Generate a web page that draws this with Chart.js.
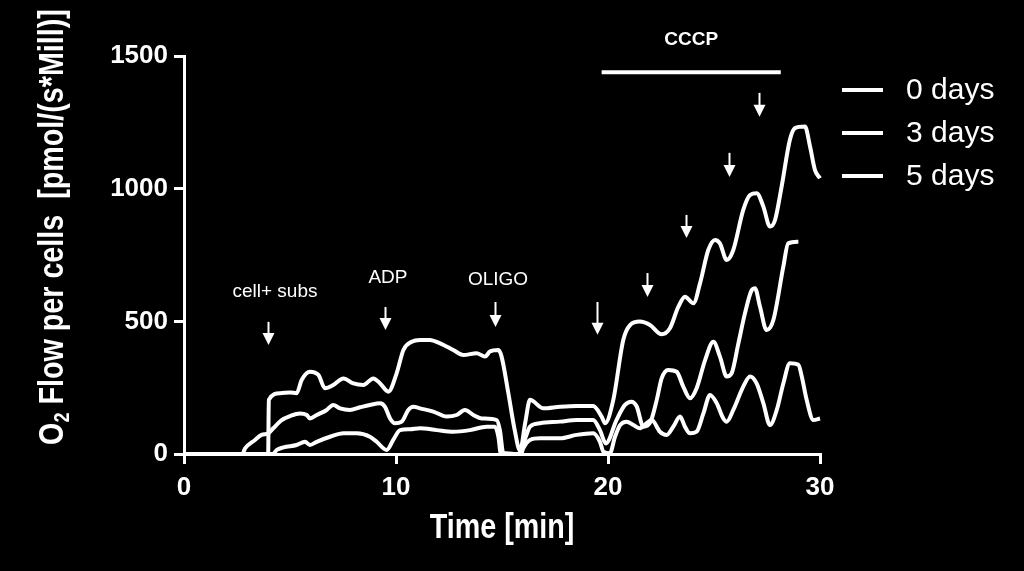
<!DOCTYPE html>
<html lang="en">
<head>
<meta charset="UTF-8">
<title>O2 Flow per cells</title>
<script src="https://cdn.jsdelivr.net/npm/chart.js"></script>
<style>
  html, body { margin: 0; padding: 0; background: #000; }
  canvas { display: block; }
</style>
</head>
<body>
<canvas id="flowChart" width="1024" height="571"></canvas>
<script>
// series: time [min] and O2 flow [pmol/(s*Mill)]
const seriesNames = ['0 days', '3 days', '5 days'];

const t0 = [0, 3.97, 4.0, 4.53, 5.0, 5.31, 5.55, 5.94, 6.34, 6.65, 7.04, 7.52, 7.99, 8.46, 8.93,
  9.25, 9.64, 10.03, 10.35, 10.74, 11.13, 11.6, 12.08, 12.7, 13.18, 13.8, 14.2, 14.43, 14.83, 14.98,
  15.3, 15.6, 15.85, 16.1, 16.32, 16.95, 17.74, 18.52, 19.3, 19.7, 19.86, 20.25, 20.72, 21.04, 21.5,
  21.98, 22.53, 22.92, 23.32, 23.63, 24.03, 24.34, 24.73, 25.05, 25.28, 25.6, 25.91, 26.38, 26.7, 27.01,
  27.33, 27.64, 27.88, 28.19, 28.58, 28.82, 29.29, 29.53, 29.76, 30.0];
const v0 = [0, 0, 204, 229, 232, 229, 279, 310, 298, 248, 260, 285, 266, 260, 285,
  266, 235, 304, 392, 423, 430, 430, 417, 392, 373, 380, 367, 386, 392, 367,
  229, 90, 12, 120, 204, 172, 178, 181, 181, 141, 116, 204, 430, 486, 499,
  486, 451, 474, 555, 593, 568, 643, 769, 807, 794, 731, 769, 920, 976, 983,
  932, 857, 882, 1008, 1184, 1228, 1234, 1159, 1071, 1039];

const t1 = [0, 2.75, 2.88, 3.35, 3.66, 3.98, 4.21, 4.61, 5.0, 5.47, 5.79, 5.94, 6.26, 6.73, 7.04,
  7.36, 7.83, 8.3, 8.77, 9.25, 9.48, 9.72, 9.95, 10.27, 10.58, 10.82, 11.13, 11.76, 12.39, 12.86,
  13.25, 13.65, 14.04, 14.75, 14.9, 15.06, 15.8, 16.1, 16.32, 16.79, 17.74, 18.52, 19.3, 19.62, 19.9,
  20.4, 20.8, 21.1, 21.35, 21.67, 22.0, 22.3, 22.53, 22.84, 23.24, 23.55, 23.87, 24.18, 24.58, 24.97,
  25.28, 25.6, 25.83, 26.15, 26.46, 26.78, 26.93, 27.17, 27.48, 27.8, 28.27, 28.5, 28.98];
const v1 = [0, 0, 21, 53, 72, 78, 97, 128, 143, 153, 147, 134, 147, 166, 185,
  172, 166, 176, 185, 191, 178, 134, 116, 122, 166, 178, 172, 160, 141, 147,
  166, 147, 134, 128, 90, 3, 0, 60, 103, 116, 122, 128, 128, 90, 40,
  128, 185, 197, 180, 103, 120, 204, 285, 317, 310, 254, 210, 248, 354, 423,
  367, 292, 304, 417, 530, 618, 625, 555, 467, 505, 706, 794, 800];

const t2 = [0, 4.2, 4.37, 4.69, 5.31, 5.71, 5.94, 6.26, 6.89, 7.52, 8.15, 8.77, 9.09, 9.56, 9.87,
  10.19, 10.66, 11.13, 11.92, 12.7, 13.49, 14.28, 14.67, 14.83, 14.94, 15.9, 16.0, 16.32, 16.79, 17.74,
  18.52, 19.3, 19.62, 19.78, 20.09, 20.33, 20.57, 20.88, 21.2, 21.51, 21.82, 22.06, 22.45, 22.77, 23.08,
  23.4, 23.63, 23.87, 24.18, 24.5, 24.81, 25.13, 25.44, 25.6, 25.91, 26.38, 26.7, 27.01, 27.33, 27.64,
  27.96, 28.27, 28.58, 28.98, 29.14, 29.37, 29.69, 30.0];
const v2 = [0, 0, 15, 25, 34, 46, 34, 46, 65, 78, 78, 65, 46, 15, 53,
  90, 93, 97, 90, 84, 90, 103, 103, 65, 3, 0, 21, 53, 59, 59,
  72, 78, 46, 9, 3, 65, 109, 122, 109, 97, 116, 128, 84, 72, 103,
  141, 103, 78, 84, 153, 222, 191, 134, 122, 166, 254, 292, 266, 191, 109,
  166, 266, 342, 336, 292, 204, 128, 134];

// additions (arrows) in data units: time, arrow top, arrow tip
const arrowT = [3.96, 9.48, 14.67, 19.48, 21.83, 23.68, 25.69, 27.12];
const arrowTop = [498, 554, 573, 573, 682, 901, 1135, 1361];
const arrowTip = [411, 467, 479, 449, 592, 814, 1044, 1271];
const noteText = ['cell+ subs', 'ADP', 'OLIGO'];
const noteT = [4.29, 9.62, 14.81];
const noteV = [611, 664, 656];
const cccpFrom = 19.7, cccpTo = 28.15, cccpLevel = 1439, cccpLabelV = 1561;

const SANS = "'Liberation Sans', Arial, sans-serif";

function toPoints(ts, vs) {
  return ts.map((t, i) => ({ x: t, y: vs[i] }));
}

// draws text parts [text, size, dy] condensed horizontally, centred on 0,0
function narrowText(ctx, parts) {
  const squeeze = 0.82;
  let total = 0;
  parts.forEach(p => {
    ctx.font = 'bold ' + p[1] + 'px ' + SANS;
    p.w = ctx.measureText(p[0]).width;
    total += p.w;
  });
  ctx.scale(squeeze, 1);
  let x = -total / 2;
  parts.forEach(p => {
    ctx.font = 'bold ' + p[1] + 'px ' + SANS;
    ctx.fillText(p[0], x, p[2]);
    x += p.w;
  });
}

const extras = {
  id: 'extras',
  afterDraw(chart) {
    const ctx = chart.ctx;
    const xs = chart.scales.x, ys = chart.scales.y;
    ctx.save();
    ctx.fillStyle = '#fff';
    ctx.strokeStyle = '#fff';

    // arrows
    arrowT.forEach((t, i) => {
      const px = Math.round(xs.getPixelForValue(t)) + 0.5;
      const top = ys.getPixelForValue(arrowTop[i]);
      const tip = ys.getPixelForValue(arrowTip[i]);
      const hw = 6, hh = 12;
      ctx.lineWidth = 2;
      ctx.beginPath();
      ctx.moveTo(px, top);
      ctx.lineTo(px, tip - hh + 2);
      ctx.stroke();
      ctx.beginPath();
      ctx.moveTo(px - hw, tip - hh);
      ctx.lineTo(px + hw, tip - hh);
      ctx.lineTo(px, tip);
      ctx.closePath();
      ctx.fill();
    });

    // labels over the arrows
    ctx.font = '19px ' + SANS;
    ctx.textAlign = 'center';
    ctx.textBaseline = 'middle';
    noteText.forEach((s, i) => {
      ctx.fillText(s, xs.getPixelForValue(noteT[i]), ys.getPixelForValue(noteV[i]));
    });

    // CCCP bar
    const cy = ys.getPixelForValue(cccpLevel);
    ctx.lineWidth = 4;
    ctx.beginPath();
    ctx.moveTo(xs.getPixelForValue(cccpFrom), cy);
    ctx.lineTo(xs.getPixelForValue(cccpTo), cy);
    ctx.stroke();
    ctx.font = 'bold 19px ' + SANS;
    ctx.fillText('CCCP', xs.getPixelForValue((cccpFrom + cccpTo) / 2), ys.getPixelForValue(cccpLabelV));

    // legend
    ctx.font = '30px ' + SANS;
    ctx.textAlign = 'left';
    chart.data.datasets.forEach((ds, i) => {
      const ly = 90 + i * 43;
      ctx.lineWidth = 4;
      ctx.beginPath();
      ctx.moveTo(842, ly);
      ctx.lineTo(883, ly);
      ctx.stroke();
      ctx.fillText(ds.label, 906, ly + 1);
    });

    // axis titles
    ctx.textAlign = 'left';
    ctx.textBaseline = 'alphabetic';
    ctx.save();
    ctx.translate((xs.left + xs.right) / 2, 538);
    narrowText(ctx, [['Time [min]', 35, 0]]);
    ctx.restore();

    ctx.save();
    ctx.translate(63, 227);
    ctx.rotate(-Math.PI / 2);
    narrowText(ctx, [['O', 35, 0], ['2', 22, 6], [' Flow per cells  [pmol/(s*Mill)]', 35, 0]]);
    ctx.restore();

    ctx.restore();
  }
};

const lineStyle = {
  borderColor: '#fff',
  backgroundColor: '#fff',
  borderWidth: 4,
  pointRadius: 0,
  fill: false,
  cubicInterpolationMode: 'monotone',
  clip: false
};

new Chart(document.getElementById('flowChart').getContext('2d'), {
  type: 'line',
  data: {
    datasets: [
      { label: seriesNames[0], data: toPoints(t0, v0), ...lineStyle },
      { label: seriesNames[1], data: toPoints(t1, v1), ...lineStyle },
      { label: seriesNames[2], data: toPoints(t2, v2), ...lineStyle }
    ]
  },
  options: {
    responsive: false,
    animation: false,
    devicePixelRatio: 1,
    layout: { padding: { left: 0, top: 56, right: 204, bottom: 0 } },
    plugins: {
      legend: { display: false },
      tooltip: { enabled: false }
    },
    scales: {
      x: {
        type: 'linear',
        min: 0,
        max: 30,
        border: { display: true, color: '#fff', width: 3 },
        grid: { drawOnChartArea: false, color: '#fff', lineWidth: 3, tickLength: 10 },
        ticks: {
          stepSize: 10,
          color: '#fff',
          padding: 8,
          font: { family: SANS, size: 26, weight: 'bold' },
          callback: v => String(v)
        },
        afterFit(scale) { scale.height = 117; }
      },
      y: {
        min: 0,
        max: 1500,
        border: { display: true, color: '#fff', width: 3 },
        grid: { drawOnChartArea: false, color: '#fff', lineWidth: 3, tickLength: 10 },
        ticks: {
          stepSize: 500,
          color: '#fff',
          padding: 6,
          font: { family: SANS, size: 26, weight: 'bold' },
          callback: v => String(v)
        },
        afterFit(scale) { scale.width = 184; }
      }
    }
  },
  plugins: [extras]
});
</script>
</body>
</html>
